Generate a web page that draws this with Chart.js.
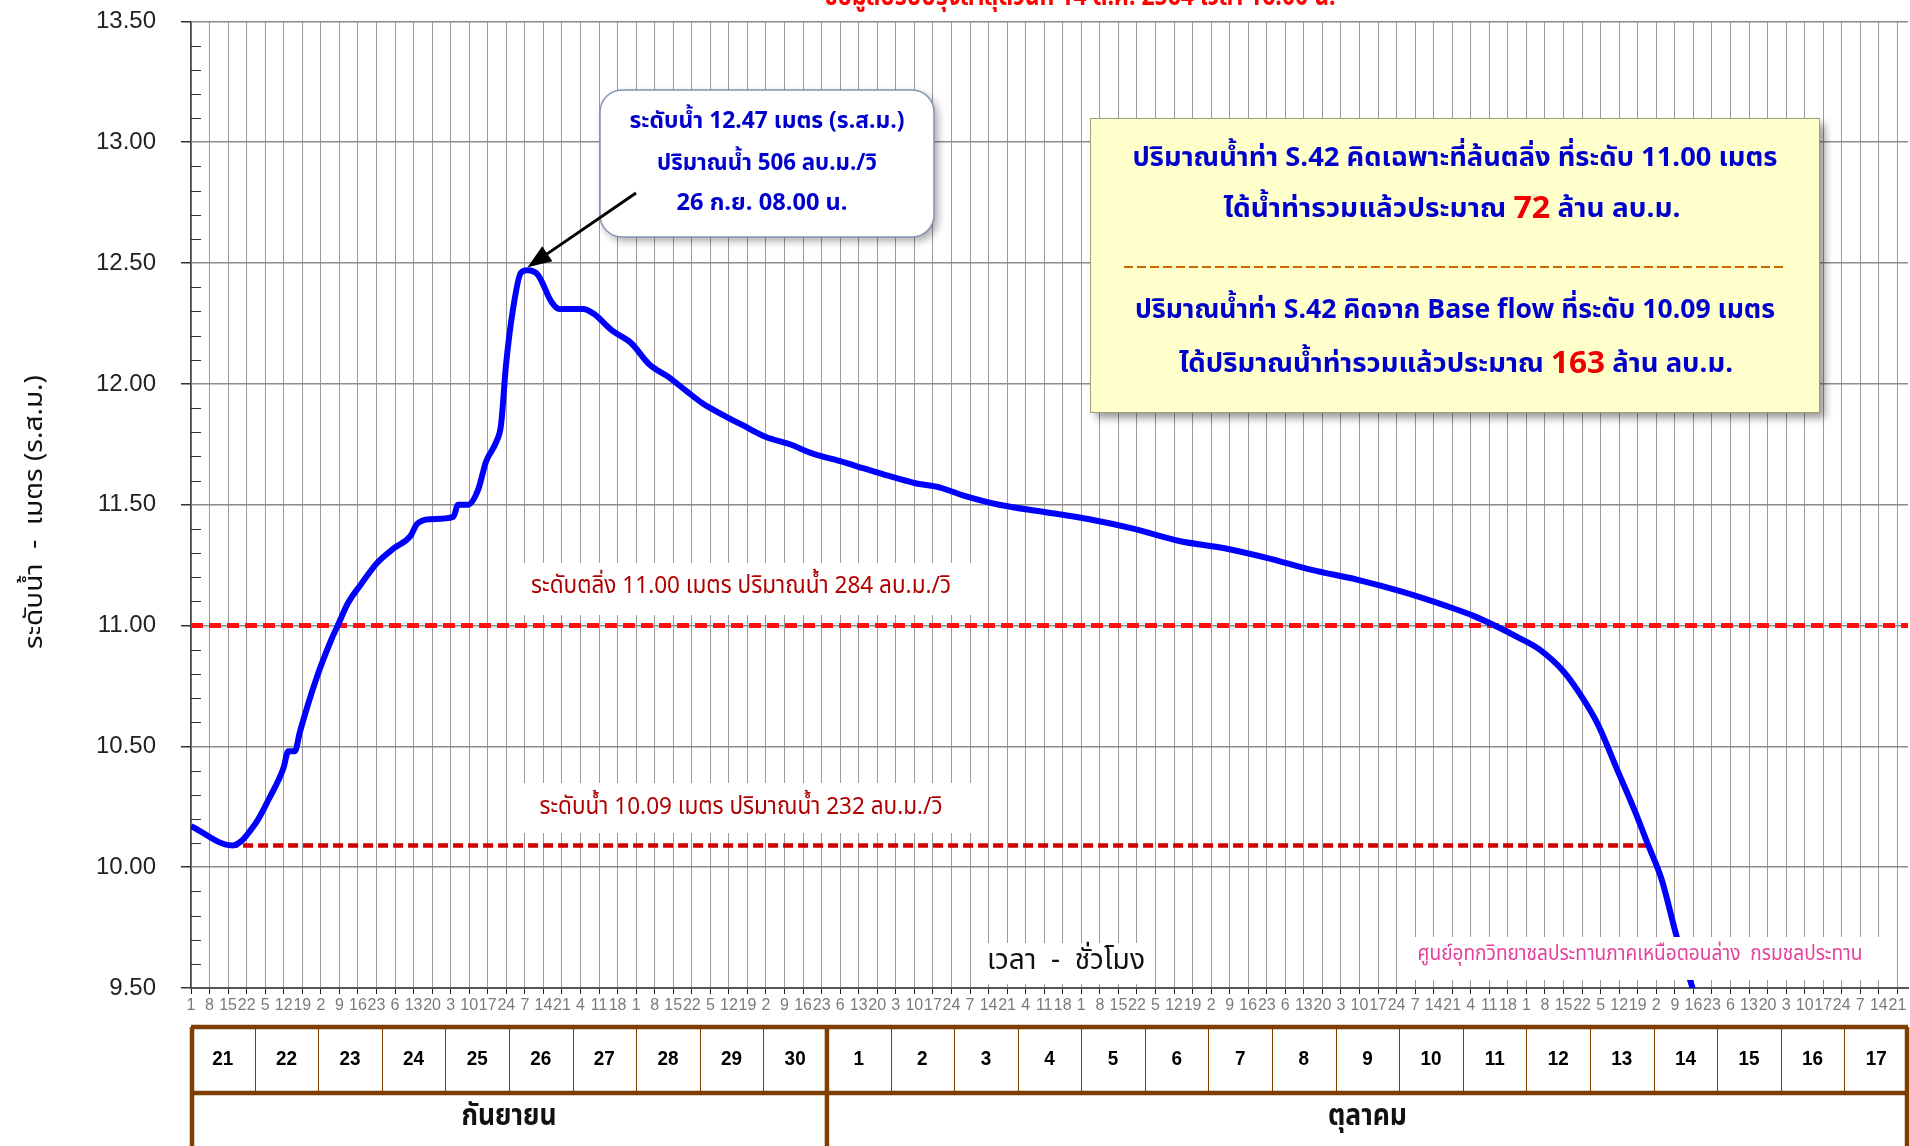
<!DOCTYPE html>
<html>
<head>
<meta charset="utf-8">
<script src="https://cdn.jsdelivr.net/npm/chart.js@4.4.0/dist/chart.umd.min.js"></script>
<style>
  html, body { margin: 0; padding: 0; background: #fff; }
  #wrap { width: 1910px; height: 1146px; overflow: hidden; position: relative; }
  #levelChart { position: absolute; left: 0; top: 0; }
</style>
</head>
<body>
<div id="wrap"><canvas id="levelChart" width="1910" height="1146"></canvas></div>
<script>
// WATER LEVEL AT S.42, HOURS COUNTED FROM 21 SEP 01.00
const hours = [
    0, 15.6, 24.3, 29.3, 34.9, 36.7, 39.2, 41.1, 47.3, 52.9,
    55.4, 59.1, 64.1, 70.3, 76.6, 82.8, 85.3, 90.3, 99, 100.8,
    104.6, 108.3, 111.4, 115.2, 117, 118.9, 121.4, 124.5, 127, 131,
    136, 139, 148, 152, 159, 166, 173, 180, 187, 193,
    201, 208, 217, 226, 235, 245, 254, 263, 273, 283,
    291, 305, 322, 339, 356, 373, 390, 406, 423, 440,
    457, 474, 484, 492, 501, 509, 518, 524, 531, 538,
    545, 550, 555, 561, 567
];
const levels = [
    10.17, 10.09, 10.18, 10.28, 10.41, 10.48, 10.48, 10.56, 10.78, 10.94,
    11.00, 11.09, 11.17, 11.26, 11.32, 11.37, 11.42, 11.44, 11.45, 11.50,
    11.50, 11.56, 11.68, 11.76, 11.83, 12.08, 12.30, 12.46, 12.47, 12.45,
    12.34, 12.31, 12.31, 12.29, 12.22, 12.17, 12.08, 12.03, 11.97, 11.92,
    11.87, 11.83, 11.78, 11.75, 11.71, 11.68, 11.65, 11.62, 11.59, 11.57,
    11.54, 11.50, 11.47, 11.44, 11.40, 11.35, 11.32, 11.28, 11.23, 11.19,
    11.14, 11.08, 11.04, 11.00, 10.95, 10.90, 10.81, 10.72, 10.59, 10.41,
    10.23, 10.09, 9.95, 9.70, 9.49
];

// REFERENCE LEVELS
const bankLevel = 11.00;
const bankHours = [0, 648];
const baseLevel = 10.09;
const baseHours = [14, 549.6];
const peakHour = 127;
const peakLevel = 12.47;

// AXES AND TABLE LABELS
const hourStep = 7;
const totalHours = 648;
const dayLabels = [21, 22, 23, 24, 25, 26, 27, 28, 29, 30,
    1, 2, 3, 4, 5, 6, 7, 8, 9, 10, 11, 12, 13, 14, 15, 16, 17];
const monthNames = ['กันยายน', 'ตุลาคม'];
const monthDays = [10, 17];

// TEXTS
const headerText = 'ข้อมูลปรับปรุงล่าสุดวันที่ 14 ต.ค. 2564 เวลา 16.00 น.';
const yTitle = 'ระดับน้ำ  -  เมตร (ร.ส.ม.)';
const xTitle = 'เวลา  -  ชั่วโมง';
const creditText = 'ศูนย์อุทกวิทยาชลประทานภาคเหนือตอนล่าง  กรมชลประทาน';
const bankText = 'ระดับตลิ่ง 11.00 เมตร ปริมาณน้ำ 284 ลบ.ม./วิ';
const baseText = 'ระดับน้ำ 10.09 เมตร ปริมาณน้ำ 232 ลบ.ม./วิ';
const peakLines = ['ระดับน้ำ 12.47 เมตร (ร.ส.ม.)', 'ปริมาณน้ำ 506 ลบ.ม./วิ', '26 ก.ย. 08.00 น.'];
const volumeLines = [
    [['ปริมาณน้ำท่า S.42 คิดเฉพาะที่ล้นตลิ่ง ที่ระดับ 11.00 เมตร', '#0000CC', 1]],
    [['ได้น้ำท่ารวมแล้วประมาณ ', '#0000CC', 1], ['72', '#EE0000', 1.15], [' ล้าน ลบ.ม.', '#0000CC', 1]],
    [['ปริมาณน้ำท่า S.42 คิดจาก Base flow ที่ระดับ 10.09 เมตร', '#0000CC', 1]],
    [['ได้ปริมาณน้ำท่ารวมแล้วประมาณ ', '#0000CC', 1], ['163', '#EE0000', 1.15], [' ล้าน ลบ.ม.', '#0000CC', 1]]
];

const THAI = '"Noto Sans Thai", "Noto Sans Thai UI", "Noto Sans", "DejaVu Sans", sans-serif';
const NARROW = '"Liberation Sans Narrow", "Liberation Sans", Arial, sans-serif';
const PAGE_H = 1146;
const PLOT_TOP = 21;

function isMajor(v) {
    return Math.abs(v * 2 - Math.round(v * 2)) < 1e-6;
}

// DRAW A LINE OF COLOURED RUNS AT A GIVEN SIZE, SQUEEZED TO A TARGET WIDTH
function drawRuns(ctx, runs, cx, cy, targetW, weight, family, size) {
    let total = 0;
    runs.forEach(r => {
        ctx.font = `${weight} ${size * r[2]}px ${family}`;
        total += ctx.measureText(r[0]).width;
    });
    const k = targetW / total;
    ctx.save();
    ctx.translate(cx - targetW / 2, cy);
    ctx.scale(k, 1);
    ctx.textAlign = 'left';
    ctx.textBaseline = 'middle';
    let x = 0;
    runs.forEach(r => {
        ctx.font = `${weight} ${size * r[2]}px ${family}`;
        ctx.fillStyle = r[1];
        ctx.fillText(r[0], x, 0);
        x += ctx.measureText(r[0]).width;
    });
    ctx.restore();
}

function whiteBox(ctx, x1, y1, x2, y2) {
    ctx.fillStyle = '#ffffff';
    ctx.fillRect(x1, y1, x2 - x1, y2 - y1);
}

// page coordinates are shifted by the canvas offset (chart.$off)
const overlay = {
    id: 'overlay',
    beforeDatasetsDraw(chart) {
        const ctx = chart.ctx;
        const y = chart.scales.y;
        const area = chart.chartArea;
        const off = chart.$off || 0;
        ctx.save();
        // minor ticks inside the y axis
        ctx.strokeStyle = '#333';
        ctx.lineWidth = 1;
        for (let i = 1; i < 40; i++) {
            const v = 9.5 + i * 0.1;
            if (isMajor(v)) continue;
            const py = Math.round(y.getPixelForValue(v)) + 0.5;
            ctx.beginPath();
            ctx.moveTo(area.left, py);
            ctx.lineTo(area.left + 10, py);
            ctx.stroke();
        }
        ctx.translate(0, off);
        // label boxes
        whiteBox(ctx, 511, 563, 975, 615);
        drawRuns(ctx, [[bankText, '#B00000', 1]], 741, 588, 420, 'normal', THAI, 24);
        whiteBox(ctx, 521, 783, 975, 833);
        drawRuns(ctx, [[baseText, '#B00000', 1]], 741, 809, 403, 'normal', THAI, 24);
        whiteBox(ctx, 977, 943, 1151, 984);
        drawRuns(ctx, [[xTitle, '#111', 1]], 1066, 963, 158, 'normal', THAI, 29);
        ctx.restore();
    },
    afterDatasetsDraw(chart) {
        const ctx = chart.ctx;
        const xs = chart.scales.x;
        const ys = chart.scales.y;
        const off = chart.$off || 0;
        ctx.save();
        ctx.translate(0, off);

        // credit box covers the curve end
        whiteBox(ctx, 1403, 937, 1893, 980);
        drawRuns(ctx, [[creditText, '#E4409C', 1]], 1640, 956, 445, 'normal', THAI, 22);

        // peak callout
        ctx.save();
        ctx.shadowColor = 'rgba(0,0,0,0.35)';
        ctx.shadowBlur = 8;
        ctx.shadowOffsetX = 4;
        ctx.shadowOffsetY = 4;
        ctx.beginPath();
        ctx.roundRect(600, 90, 334, 147, 22);
        ctx.fillStyle = '#ffffff';
        ctx.fill();
        ctx.restore();
        ctx.beginPath();
        ctx.roundRect(600, 90, 334, 147, 22);
        ctx.strokeStyle = '#8494b4';
        ctx.lineWidth = 1.5;
        ctx.stroke();
        drawRuns(ctx, [[peakLines[0], '#0000CC', 1]], 767, 123, 275, 'bold', THAI, 23);
        drawRuns(ctx, [[peakLines[1], '#0000CC', 1]], 767, 165, 220, 'bold', THAI, 23);
        drawRuns(ctx, [[peakLines[2], '#0000CC', 1]], 762, 205, 171, 'bold', THAI, 23);

        // arrow to the peak
        const tipX = xs.getPixelForValue(peakHour);
        const tipY = ys.getPixelForValue(peakLevel) - off - 3;
        const tailX = 636, tailY = 193;
        const ang = Math.atan2(tipY - tailY, tipX - tailX);
        ctx.strokeStyle = '#000';
        ctx.fillStyle = '#000';
        ctx.lineWidth = 3;
        ctx.beginPath();
        ctx.moveTo(tailX, tailY);
        ctx.lineTo(tipX - 18 * Math.cos(ang), tipY - 18 * Math.sin(ang));
        ctx.stroke();
        ctx.beginPath();
        ctx.moveTo(tipX, tipY);
        ctx.lineTo(tipX - 24 * Math.cos(ang) + 9 * Math.sin(ang), tipY - 24 * Math.sin(ang) - 9 * Math.cos(ang));
        ctx.lineTo(tipX - 24 * Math.cos(ang) - 9 * Math.sin(ang), tipY - 24 * Math.sin(ang) + 9 * Math.cos(ang));
        ctx.closePath();
        ctx.fill();

        // volume box
        ctx.save();
        ctx.shadowColor = 'rgba(0,0,0,0.4)';
        ctx.shadowBlur = 8;
        ctx.shadowOffsetX = 6;
        ctx.shadowOffsetY = 6;
        ctx.fillStyle = '#FFFFCC';
        ctx.fillRect(1090, 118, 729, 294);
        ctx.restore();
        ctx.strokeStyle = '#a0a080';
        ctx.lineWidth = 1;
        ctx.strokeRect(1090.5, 118.5, 729, 294);
        drawRuns(ctx, volumeLines[0], 1455, 161, 645, 'bold', THAI, 27);
        drawRuns(ctx, volumeLines[1], 1452, 212, 457, 'bold', THAI, 27);
        drawRuns(ctx, volumeLines[2], 1455, 313, 640, 'bold', THAI, 27);
        drawRuns(ctx, volumeLines[3], 1456, 367, 554, 'bold', THAI, 27);
        ctx.strokeStyle = '#CC6600';
        ctx.lineWidth = 2;
        ctx.setLineDash([9, 4]);
        ctx.beginPath();
        ctx.moveTo(1124, 267);
        ctx.lineTo(1786, 267);
        ctx.stroke();
        ctx.setLineDash([]);
        ctx.restore();
    },
    afterDraw(chart) {
        const ctx = chart.ctx;
        const xs = chart.scales.x;
        const off = chart.$off || 0;
        ctx.save();
        ctx.translate(0, off);

        // header, cut off at the top
        ctx.save();
        ctx.translate(1080, 5);
        ctx.scale(0.85, 1);
        ctx.font = `bold 27px ${THAI}`;
        ctx.fillStyle = '#FF0000';
        ctx.textAlign = 'center';
        ctx.textBaseline = 'alphabetic';
        ctx.fillText(headerText, 0, 0);
        ctx.restore();

        // y title
        ctx.save();
        ctx.translate(37, 512);
        ctx.rotate(-Math.PI / 2);
        drawRuns(ctx, [[yTitle, '#111', 1]], 0, 0, 274, 'normal', THAI, 25);
        ctx.restore();

        // day / month table
        const top = 1027, mid = 1093, bottom = 1150;
        ctx.strokeStyle = '#7F3F00';
        ctx.lineWidth = 1;
        dayLabels.forEach((d, i) => {
            const x1 = xs.getPixelForValue(i * 24);
            const x2 = xs.getPixelForValue((i + 1) * 24);
            if (i > 0) {
                ctx.beginPath();
                ctx.moveTo(Math.round(x1) + 0.5, top);
                ctx.lineTo(Math.round(x1) + 0.5, mid);
                ctx.stroke();
            }
            ctx.save();
            ctx.translate((x1 + x2) / 2, 1059);
            ctx.scale(0.9, 1);
            ctx.font = 'bold 21px "Liberation Sans", Arial, sans-serif';
            ctx.fillStyle = '#000';
            ctx.textAlign = 'center';
            ctx.textBaseline = 'middle';
            ctx.fillText(String(d), 0, 0);
            ctx.restore();
        });
        ctx.lineWidth = 4.5;
        const left = xs.getPixelForValue(0);
        const right = xs.getPixelForValue(totalHours);
        ctx.beginPath();
        ctx.moveTo(left, top); ctx.lineTo(right, top);
        ctx.moveTo(left, mid); ctx.lineTo(right, mid);
        ctx.moveTo(left + 1, top); ctx.lineTo(left + 1, bottom);
        ctx.moveTo(right - 1, top); ctx.lineTo(right - 1, bottom);
        ctx.stroke();
        let start = 0;
        monthNames.forEach((m, i) => {
            const x1 = xs.getPixelForValue(start * 24);
            const x2 = xs.getPixelForValue((start + monthDays[i]) * 24);
            if (i > 0) {
                ctx.beginPath();
                ctx.moveTo(x1, top); ctx.lineTo(x1, bottom);
                ctx.stroke();
            }
            drawRuns(ctx, [[m, '#111', 1]], (x1 + x2) / 2, 1119, i === 0 ? 95 : 79, 'bold', THAI, 30);
            start += monthDays[i];
        });
        ctx.restore();
    }
};

function buildConfig() {
    return {
        type: 'line',
        data: {
            datasets: [{
                label: 'level',
                data: hours.map((h, i) => ({ x: h, y: levels[i] })),
                borderColor: '#0000FF',
                borderWidth: 6,
                pointRadius: 0,
                cubicInterpolationMode: 'monotone',
                fill: false
            }, {
                label: 'bank',
                data: bankHours.map(h => ({ x: h, y: bankLevel })),
                borderColor: '#FF1010',
                borderWidth: 5,
                borderDash: [12, 6],
                pointRadius: 0,
                fill: false
            }, {
                label: 'base',
                data: baseHours.map(h => ({ x: h, y: baseLevel })),
                borderColor: '#D00000',
                borderWidth: 4.5,
                borderDash: [10, 5],
                pointRadius: 0,
                fill: false
            }]
        },
        options: {
            responsive: false,
            animation: false,
            devicePixelRatio: 1,
            layout: { padding: { top: 0, right: 2, left: 0, bottom: 0 } },
            plugins: { legend: { display: false }, tooltip: { enabled: false } },
            scales: {
                x: {
                    type: 'linear',
                    min: 0,
                    max: totalHours,
                    afterFit: (scale) => { scale.height = 158; },
                    border: { display: true, color: '#555', width: 2 },
                    grid: { color: '#9a9a9a', lineWidth: 1, tickLength: 6, tickColor: '#222' },
                    ticks: {
                        stepSize: hourStep,
                        includeBounds: false,
                        autoSkip: false,
                        maxRotation: 0,
                        padding: 2,
                        color: '#7a7a7a',
                        font: { family: NARROW, size: 16 },
                        callback: (v) => (v % 24) + 1
                    }
                },
                y: {
                    min: 9.5,
                    max: 13.5,
                    afterFit: (scale) => { scale.width = 191; },
                    border: { display: true, color: '#444', width: 1.5 },
                    grid: {
                        color: (c) => isMajor(c.tick.value) ? '#8c8c8c' : 'rgba(0,0,0,0)',
                        tickColor: (c) => isMajor(c.tick.value) ? '#333' : 'rgba(0,0,0,0)',
                        lineWidth: 1.5,
                        tickLength: 10
                    },
                    ticks: {
                        stepSize: 0.1,
                        autoSkip: false,
                        padding: 25,
                        color: '#222',
                        font: { family: '"Liberation Sans", Arial, sans-serif', size: 24 },
                        callback: (v) => isMajor(v) ? v.toFixed(2) : ''
                    }
                }
            }
        },
        plugins: [overlay]
    };
}

// FIRST PASS MEASURES WHERE THE PLOT STARTS, SECOND PASS SHIFTS THE CANVAS SO IT STARTS AT PLOT_TOP
const canvas = document.getElementById('levelChart');
let chart = new Chart(canvas, buildConfig());
const off = Math.max(0, Math.round(chart.chartArea.top - PLOT_TOP));
chart.destroy();
canvas.width = 1910;
canvas.height = PAGE_H + off;
canvas.style.top = (-off) + 'px';
chart = new Chart(canvas, buildConfig());
chart.$off = off;
chart.draw();
</script>
</body>
</html>
